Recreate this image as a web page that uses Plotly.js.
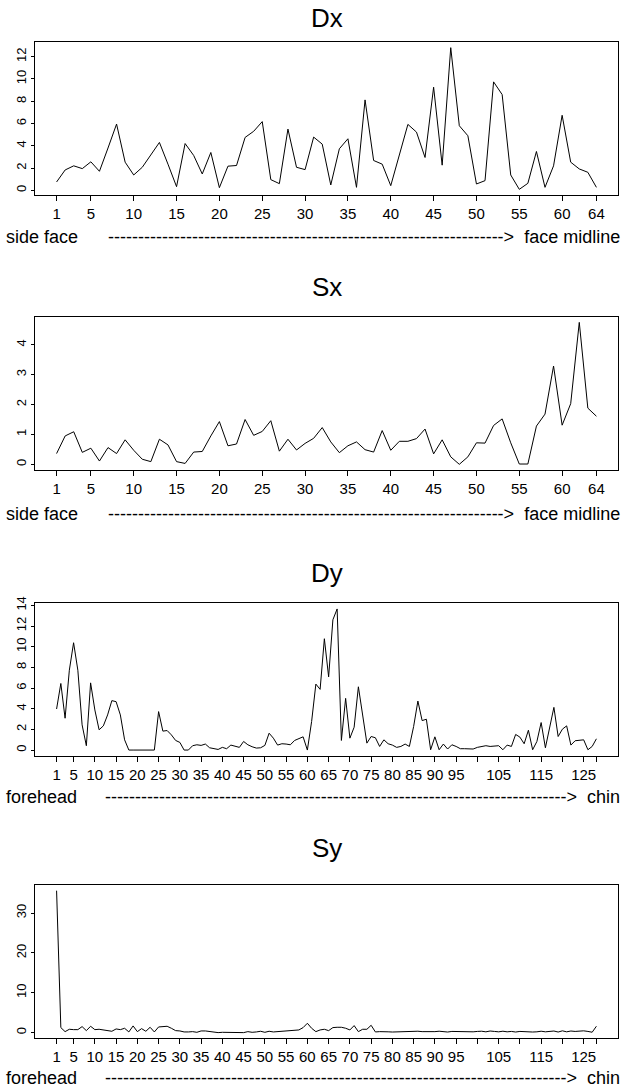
<!DOCTYPE html>
<html>
<head>
<meta charset="utf-8">
<script src="https://cdn.plot.ly/plotly-3.0.1.min.js"></script>
<style>html,body{margin:0;padding:0;background:#fff;}#chart{width:625px;height:1092px;}</style>
</head>
<body>
<div id="chart"></div>
<script>
// ---------- data ----------
const titles = ["Dx", "Sx", "Dy", "Sy"];
const xLabelLeft = ["side face", "side face", "forehead", "forehead"];
const xLabelRight = ["face midline", "face midline", "chin", "chin"];

const Dx = [0.75,1.83,2.2,1.95,2.56,1.71,3.8,5.95,2.53,1.38,
  2.07,3.16,4.3,2.35,0.33,4.2,3.13,1.47,3.4,0.24,
  2.17,2.23,4.75,5.3,6.17,0.96,0.6,5.5,2.07,1.86,
  4.78,4.15,0.48,3.73,4.63,0.27,8.12,2.68,2.35,0.42,
  3.19,5.92,5.23,2.95,9.26,2.26,12.81,5.8,4.9,0.57,
  0.87,9.74,8.6,1.38,0.09,0.63,3.49,0.27,2.2,6.74,
  2.53,1.92,1.62,0.27];

const Sx = [0.36,0.95,1.09,0.4,0.54,0.11,0.56,0.36,0.82,0.47,
  0.17,0.09,0.84,0.65,0.09,0.03,0.41,0.43,0.95,1.43,
  0.62,0.68,1.5,0.97,1.1,1.46,0.44,0.84,0.48,0.7,
  0.87,1.23,0.75,0.39,0.62,0.75,0.49,0.41,1.13,0.47,
  0.77,0.77,0.86,1.18,0.35,0.82,0.25,0.0,0.25,0.72,
  0.71,1.3,1.52,0.72,0.01,0.01,1.28,1.68,3.29,1.31,
  2.03,4.75,1.88,1.61];

const Dy = [3.97,6.44,3.08,7.72,10.38,7.72,2.44,0.42,6.5,3.88,
  1.96,2.34,3.4,4.78,4.68,3.4,0.99,0,0,0,
  0,0,0,0,3.72,1.83,1.89,1.47,0.93,0.74,
  0,0,0.42,0.51,0.45,0.58,0.22,0.13,0.06,0.26,
  0.13,0.48,0.38,0.26,0.83,0.51,0.32,0.19,0.22,0.45,
  1.63,1.15,0.48,0.61,0.58,0.51,0.93,1.12,1.28,0,
  2.76,6.38,5.87,10.77,7.08,12.6,13.65,0.93,5.0,1.15,
  2.21,6.12,3.4,0.67,1.31,1.19,0.35,0.99,0.61,0.48,
  0.26,0.35,0.58,0.35,2.28,4.74,2.85,2.98,0.03,1.28,
  0.03,0.58,0.1,0.51,0.35,0.13,0.13,0.13,0.1,0.26,
  0.35,0.42,0.35,0.35,0.42,0.03,0.48,0.35,1.51,1.25,
  0.61,1.92,0.03,0.83,2.66,0.22,2.12,4.13,1.31,2.02,
  2.34,0.48,0.9,0.93,0.99,0.03,0.35,1.09];

const Sy = [35.6,1.26,0.25,0.84,0.75,0.75,1.51,0.5,1.59,0.75,
  0.84,0.67,0.34,0.34,0.92,0.75,1.09,0.17,1.68,0.25,
  1.0,0.34,1.34,0.17,1.42,1.51,1.59,1.09,0.5,0.42,
  0.17,0.17,0.25,0.08,0.42,0.42,0.25,0.0,0.0,0.08,
  0.08,0.08,0.0,0.0,0.0,0.25,0.08,0.17,0.34,0.08,
  0.34,0.17,0.25,0.42,0.5,0.59,0.67,0.67,1.26,2.35,
  1.09,0.25,0.67,0.84,0.5,1.26,1.34,1.34,1.1,0.67,
  1.76,0.25,0.84,0.84,1.84,0.17,0.25,0.3,0.2,0.15,
  0.2,0.3,0.25,0.35,0.3,0.35,0.25,0.2,0.3,0.25,
  0.35,0.2,0.15,0.3,0.25,0.2,0.15,0.2,0.2,0.3,
  0.35,0.2,0.4,0.3,0.2,0.35,0.2,0.3,0.15,0.3,
  0.2,0.25,0.15,0.2,0.35,0.2,0.3,0.4,0.15,0.45,
  0.2,0.4,0.3,0.35,0.45,0.3,0.1,1.6];

const xTicksX = [1,5,10,15,20,25,30,35,40,45,50,55,60,64];
const xTickTextX = ["1","5","10","15","20","25","30","35","40","45","50","55","60","64"];
const xTicksY = [1,5,10,15,20,25,30,35,40,45,50,55,60,65,70,75,80,85,90,95,100,105,110,115,120,125,128];
const xTickTextY = ["1","5","10","15","20","25","30","35","40","45","50","55","60","65","70","75","80","85","90","95","","105","","115","","125",""];

// ---------- layout ----------
const series = [Dx, Sx, Dy, Sy];
const ticksV = [xTicksX, xTicksX, xTicksY, xTicksY];
const ticksT = [xTickTextX, xTickTextX, xTickTextY, xTickTextY];
const yDticks = [2, 1, 2, 10];
const dashCount = [66, 66, 77, 77];
const W = 625, H = 1092;
const boxes = [[42,195],[316.7,470],[603.3,755.7],[885,1038.3]];
const titleY = [18, 287, 573, 848];
const labelY = [237, 514, 797, 1078];
const FONT = "Liberation Sans, Arial, Helvetica, sans-serif";

function ext(a){const mn=Math.min(...a), mx=Math.max(...a), d=(mx-mn)*0.04; return [mn-d, mx+d];}

const data = [];
const layout = {
  width: W, height: H,
  margin: {l:0, r:0, t:0, b:0},
  paper_bgcolor: "#fff", plot_bgcolor: "#fff",
  showlegend: false,
  font: {family: FONT, color: "#000"},
  annotations: []
};

series.forEach((s, k) => {
  const xs = s.map((_, i) => i + 1);
  const n = k === 0 ? "" : String(k + 1);
  data.push({x: xs, y: s, type: "scatter", mode: "lines",
    xaxis: "x" + n, yaxis: "y" + n,
    line: {color: "#000", width: 1}, hoverinfo: "skip"});
  const [top, bot] = boxes[k];
  layout["xaxis" + n] = {
    domain: [35/W, 618/W], anchor: "y" + n,
    range: ext(xs), tickmode: "array", tickvals: ticksV[k], ticktext: ticksT[k],
    ticks: "outside", ticklen: 5, tickwidth: 1, tickcolor: "#000",
    showline: true, linecolor: "#000", linewidth: 1, mirror: true,
    showgrid: false, zeroline: false,
    tickfont: {family: FONT, size: 15, color: "#000"}
  };
  layout["yaxis" + n] = {
    domain: [1 - bot/H, 1 - top/H], anchor: "x" + n,
    range: ext(s), tick0: 0, dtick: yDticks[k],
    ticks: "outside", ticklen: 3, tickwidth: 1, tickcolor: "#000",
    tickangle: -90,
    showline: true, linecolor: "#000", linewidth: 1, mirror: true,
    showgrid: false, zeroline: false,
    tickfont: {family: FONT, size: 13, color: "#000"}
  };
  layout.annotations.push({
    xref: "paper", yref: "paper", x: 326.5/W, y: 1 - titleY[k]/H,
    xanchor: "center", yanchor: "middle", showarrow: false,
    text: titles[k], font: {family: FONT, size: 26, color: "#000"}
  });
  layout.annotations.push({
    xref: "paper", yref: "paper", x: 4/W, y: 1 - labelY[k]/H,
    xanchor: "left", yanchor: "middle", showarrow: false,
    text: xLabelLeft[k],
    font: {family: FONT, size: 18, color: "#000"}
  });
  layout.annotations.push({
    xref: "paper", yref: "paper", x: 622/W, y: 1 - labelY[k]/H,
    xanchor: "right", yanchor: "middle", showarrow: false,
    text: "-".repeat(dashCount[k]) + ">\u00a0\u00a0" + xLabelRight[k],
    font: {family: FONT, size: 18, color: "#000"}
  });
});

Plotly.newPlot("chart", data, layout, {staticPlot: true, displayModeBar: false});
</script>
</body>
</html>
